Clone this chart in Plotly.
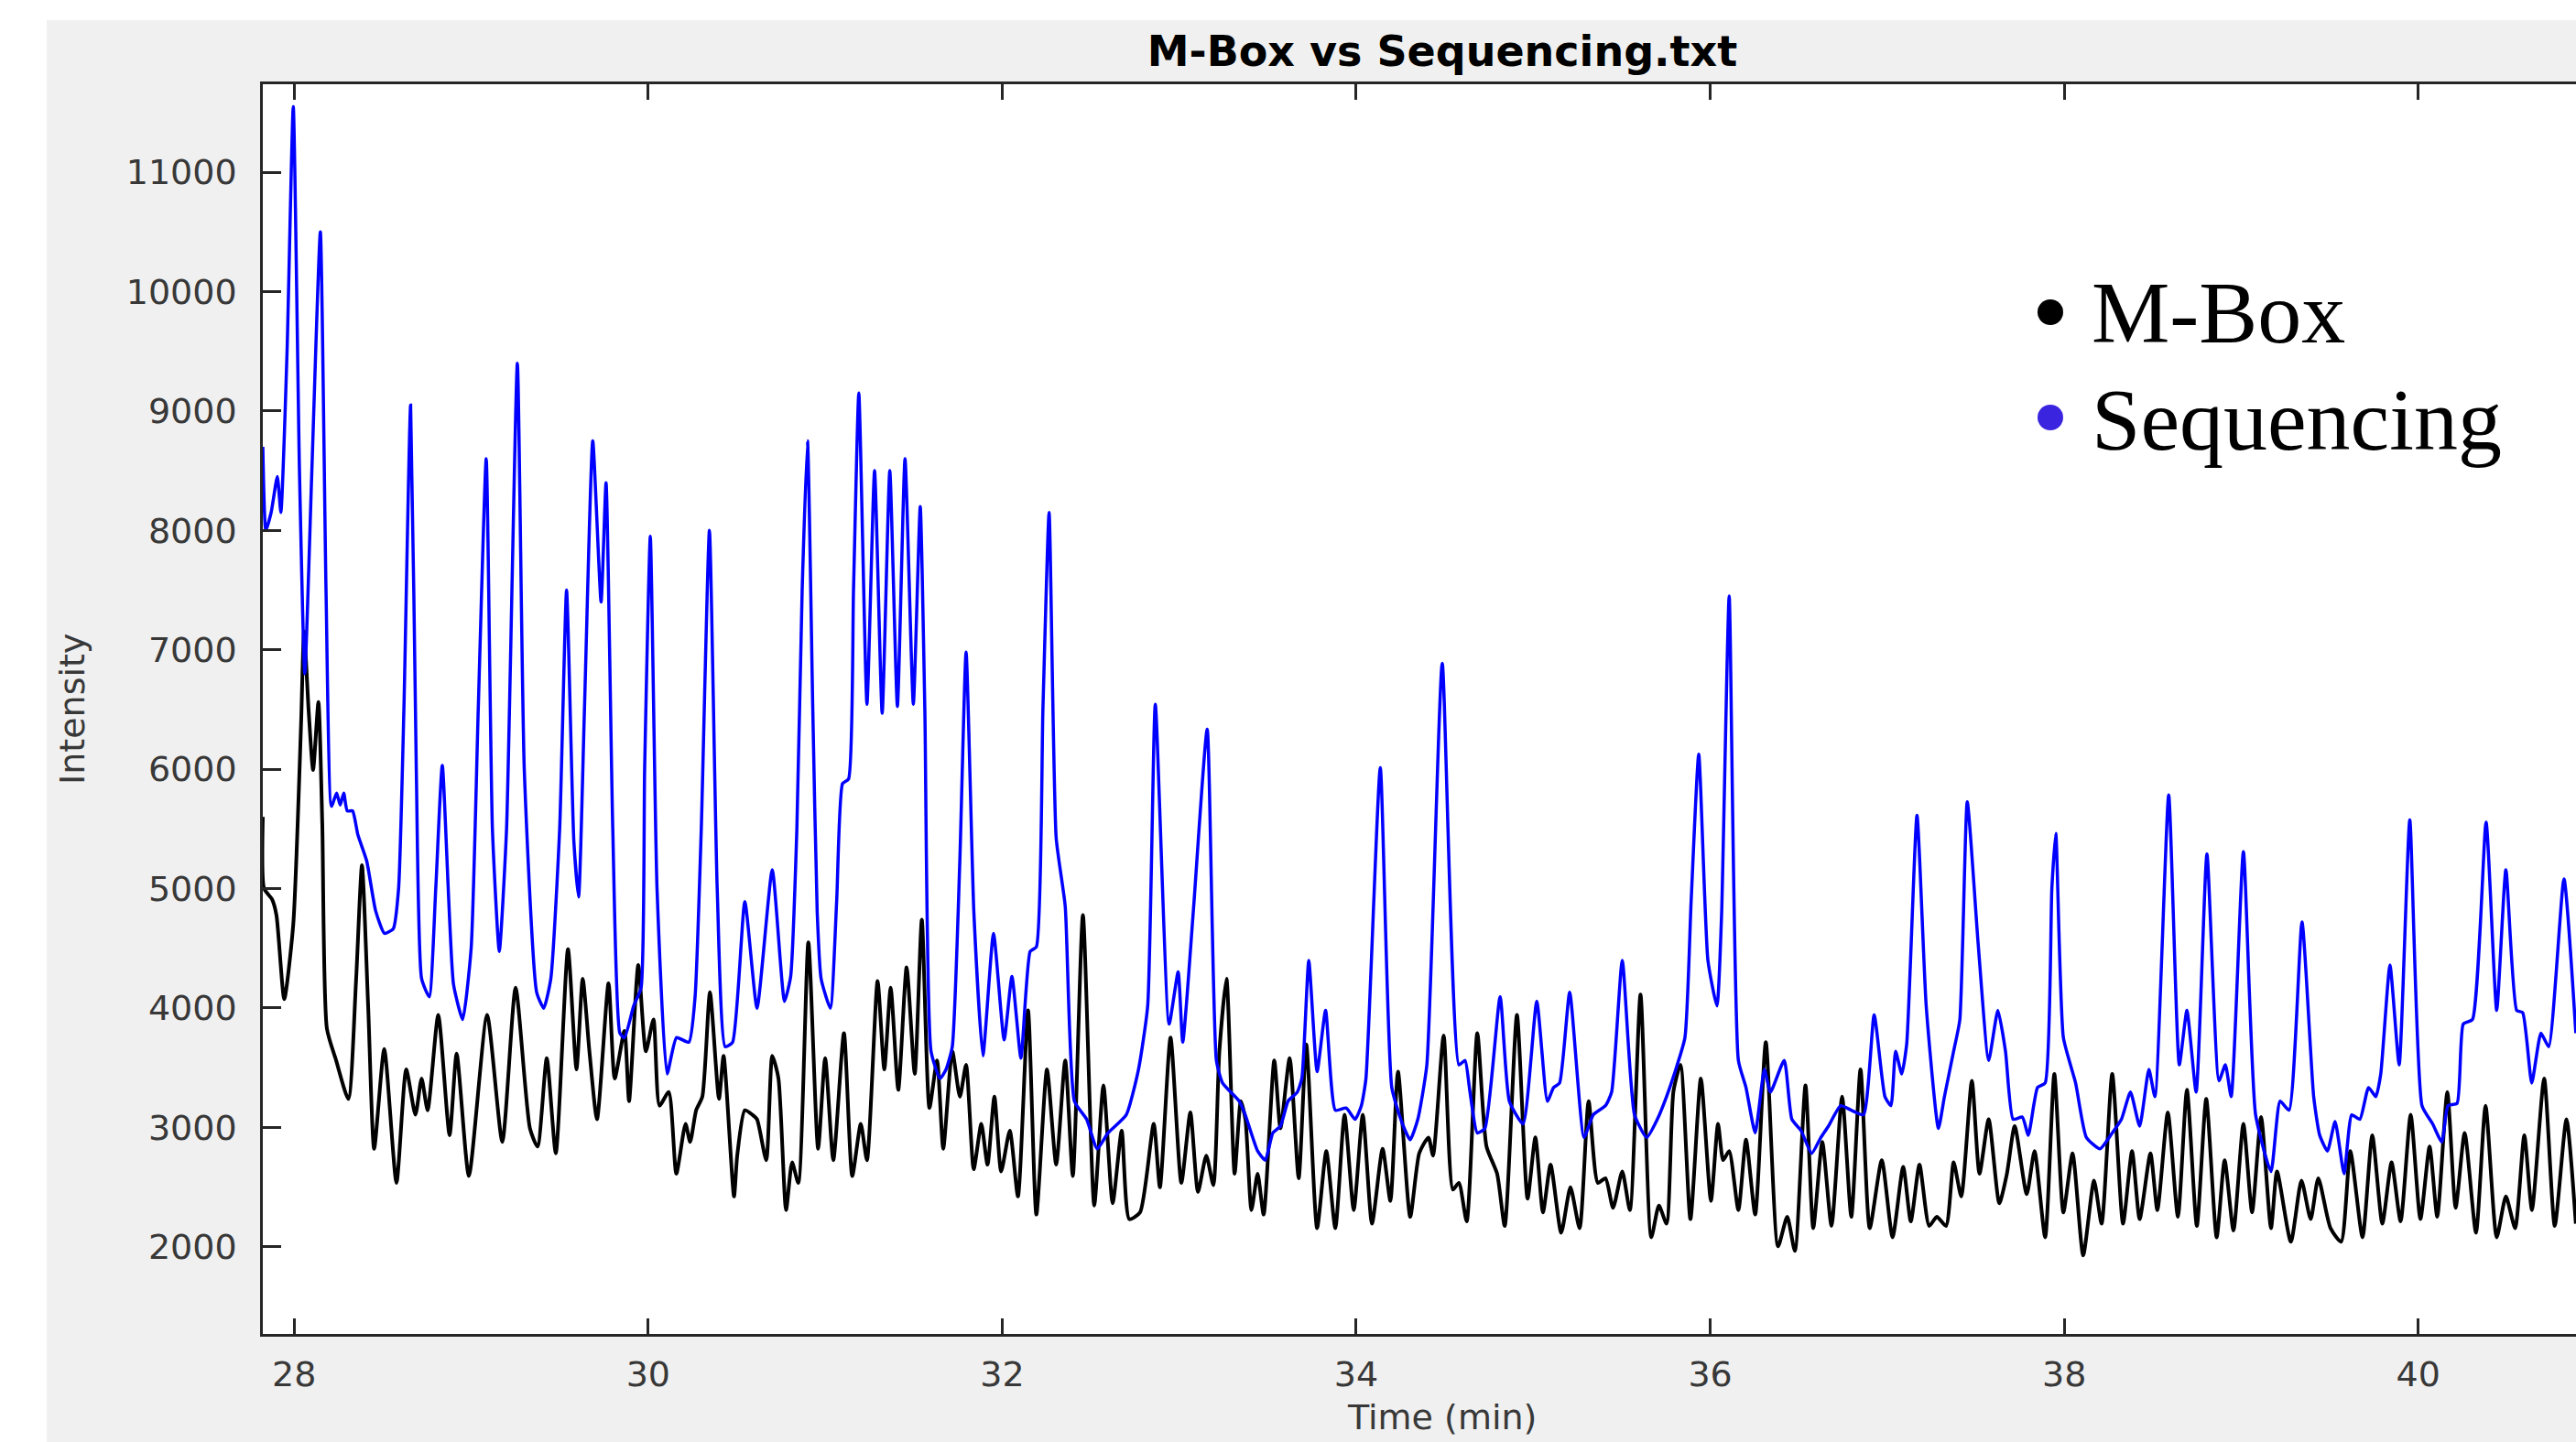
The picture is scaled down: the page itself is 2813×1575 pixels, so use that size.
import plotly.graph_objects as go

# ---------------- data ----------------
mbox_time = [
    27.823, 27.83, 27.875, 27.9, 27.944, 27.995, 28.039, 28.056, 28.082, 28.107,
    28.137, 28.159, 28.185, 28.237, 28.306, 28.349, 28.383, 28.418, 28.452, 28.509,
    28.578, 28.633, 28.685, 28.72, 28.754, 28.814, 28.878, 28.918, 28.987, 29.09,
    29.176, 29.251, 29.332, 29.375, 29.427, 29.478, 29.547, 29.595, 29.63, 29.668,
    29.711, 29.776, 29.811, 29.866, 29.892, 29.944, 29.987, 30.03, 30.064, 30.116,
    30.159, 30.211, 30.237, 30.271, 30.306, 30.349, 30.4, 30.426, 30.485, 30.503,
    30.546, 30.589, 30.615, 30.667, 30.701, 30.736, 30.779, 30.813, 30.848, 30.905,
    30.96, 31.0, 31.046, 31.106, 31.153, 31.201, 31.236, 31.296, 31.334, 31.37,
    31.413, 31.46, 31.506, 31.546, 31.589, 31.632, 31.667, 31.718, 31.761, 31.796,
    31.839, 31.882, 31.917, 31.956, 31.994, 32.043, 32.089, 32.146, 32.193, 32.253,
    32.305, 32.356, 32.399, 32.456, 32.52, 32.572, 32.624, 32.675, 32.718, 32.779,
    32.856, 32.891, 32.951, 33.012, 33.063, 33.106, 33.153, 33.193, 33.227, 33.267,
    33.313, 33.348, 33.374, 33.408, 33.443, 33.477, 33.537, 33.572, 33.624, 33.675,
    33.718, 33.779, 33.831, 33.882, 33.934, 33.986, 34.037, 34.089, 34.149, 34.193,
    34.236, 34.305, 34.356, 34.408, 34.434, 34.494, 34.546, 34.58, 34.624, 34.684,
    34.736, 34.796, 34.839, 34.908, 34.968, 35.012, 35.055, 35.098, 35.158, 35.21,
    35.262, 35.313, 35.365, 35.408, 35.451, 35.503, 35.546, 35.606, 35.667, 35.71,
    35.753, 35.792, 35.832, 35.888, 35.947, 36.004, 36.044, 36.073, 36.107, 36.159,
    36.202, 36.254, 36.314, 36.383, 36.435, 36.478, 36.538, 36.582, 36.633, 36.685,
    36.745, 36.797, 36.849, 36.901, 36.969, 37.03, 37.09, 37.133, 37.182, 37.237,
    37.28, 37.332, 37.375, 37.418, 37.478, 37.521, 37.573, 37.633, 37.676, 37.72,
    37.788, 37.832, 37.892, 37.944, 37.995, 38.047, 38.107, 38.168, 38.211, 38.271,
    38.332, 38.383, 38.426, 38.487, 38.526, 38.585, 38.642, 38.693, 38.749, 38.802,
    38.861, 38.906, 38.956, 39.012, 39.061, 39.112, 39.168, 39.202, 39.28, 39.34,
    39.392, 39.435, 39.504, 39.564, 39.616, 39.685, 39.74, 39.797, 39.849, 39.9,
    39.957, 40.012, 40.064, 40.107, 40.164, 40.211, 40.262, 40.326, 40.38, 40.443,
    40.495, 40.547, 40.599, 40.642, 40.711, 40.771, 40.837, 40.89,
]
mbox_intensity = [
    5600, 5000, 4910, 4777, 4074, 4701, 6373, 7152, 6487, 5993,
    6563, 5537, 3827, 3561, 3238, 4207, 5195, 4017, 2820, 3656,
    2535, 3485, 3105, 3409, 3143, 3941, 2934, 3618, 2592, 3941,
    2877, 4169, 2991, 2839, 3580, 2782, 4492, 3485, 4245, 3637,
    3067, 4207, 3409, 3808, 3219, 4359, 3637, 3903, 3181, 3295,
    2611, 3029, 2877, 3143, 3257, 4131, 3238, 3599, 2421, 2763,
    3143, 3105, 3067, 2725, 3599, 3409, 2307, 2706, 2535, 4549,
    2820, 3580, 2725, 3789, 2592, 3029, 2725, 4226, 3485, 4169,
    3314, 4340, 3447, 4739, 3162, 3561, 2820, 3637, 3257, 3523,
    2649, 3029, 2687, 3257, 2630, 2972, 2421, 3979, 2269, 3485,
    2687, 3561, 2592, 4777, 2345, 3352, 2364, 2972, 2231, 2288,
    3029, 2497, 3751, 2535, 3124, 2459, 2763, 2516, 3637, 4245,
    2611, 3219, 3067, 2307, 2611, 2269, 3561, 2991, 3580, 2573,
    3694, 2155, 2801, 2155, 3105, 2307, 3105, 2193, 2820, 2383,
    3466, 2250, 2782, 2915, 2763, 3770, 2478, 2535, 2212, 3789,
    2839, 2611, 2174, 3941, 2402, 2915, 2288, 2687, 2117, 2497,
    2155, 3219, 2535, 2573, 2326, 2630, 2307, 4112, 2079, 2345,
    2193, 3300, 3523, 2231, 3409, 2383, 3029, 2725, 2801, 2307,
    2896, 2269, 3713, 2003, 2250, 1965, 3352, 2155, 2877, 2174,
    3257, 2250, 3485, 2155, 2725, 2079, 2668, 2212, 2687, 2174,
    2250, 2174, 2706, 2421, 3390, 2611, 3067, 2364, 2611, 3010,
    2440, 2801, 2079, 3447, 2288, 2782, 1927, 2554, 2193, 3447,
    2193, 2801, 2231, 2782, 2307, 3124, 2250, 3314, 2174, 3238,
    2079, 2725, 2136, 3029, 2288, 3086, 2155, 2630, 2041, 2554,
    2231, 2573, 2155, 2041, 2801, 2079, 2934, 2193, 2706, 2212,
    3105, 2231, 2839, 2250, 3295, 2326, 2953, 2117, 3181, 2079,
    2421, 2155, 2934, 2307, 3409, 2174, 3067, 2193,
]

seq_time = [
    27.823, 27.84, 27.87, 27.905, 27.925, 27.96, 27.995, 28.03, 28.06, 28.1,
    28.148, 28.18, 28.211, 28.24, 28.26, 28.28, 28.3, 28.33, 28.36, 28.41,
    28.46, 28.51, 28.56, 28.59, 28.62, 28.658, 28.69, 28.72, 28.763, 28.8,
    28.837, 28.9, 28.952, 29.0, 29.04, 29.085, 29.12, 29.159, 29.2, 29.261,
    29.3, 29.37, 29.41, 29.45, 29.5, 29.539, 29.58, 29.607, 29.64, 29.687,
    29.734, 29.762, 29.8, 29.84, 29.866, 29.918, 29.96, 29.98, 30.012, 30.05,
    30.107, 30.16, 30.23, 30.265, 30.3, 30.346, 30.39, 30.435, 30.477, 30.546,
    30.615, 30.701, 30.77, 30.805, 30.84, 30.87, 30.9, 30.93, 30.955, 30.977,
    31.029, 31.065, 31.098, 31.132, 31.16, 31.19, 31.236, 31.279, 31.322, 31.365,
    31.408, 31.451, 31.498, 31.537, 31.563, 31.598, 31.649, 31.683, 31.718, 31.76,
    31.796, 31.84, 31.891, 31.951, 32.011, 32.055, 32.106, 32.158, 32.193, 32.23,
    32.265, 32.305, 32.356, 32.408, 32.477, 32.537, 32.598, 32.701, 32.77, 32.822,
    32.865, 32.943, 32.994, 33.02, 33.08, 33.158, 33.21, 33.245, 33.339, 33.373,
    33.443, 33.486, 33.529, 33.572, 33.615, 33.667, 33.693, 33.732, 33.779, 33.827,
    33.882, 33.943, 33.994, 34.029, 34.055, 34.136, 34.201, 34.261, 34.305, 34.348,
    34.399, 34.486, 34.58, 34.615, 34.641, 34.684, 34.727, 34.813, 34.865, 34.943,
    35.02, 35.08, 35.115, 35.149, 35.206, 35.287, 35.339, 35.408, 35.443, 35.503,
    35.572, 35.641, 35.701, 35.753, 35.797, 35.857, 35.892, 35.935, 35.987, 36.038,
    36.064, 36.107, 36.159, 36.202, 36.254, 36.306, 36.34, 36.418, 36.461, 36.513,
    36.573, 36.625, 36.668, 36.737, 36.797, 36.866, 36.926, 36.987, 37.021, 37.047,
    37.082, 37.11, 37.168, 37.22, 37.289, 37.323, 37.375, 37.41, 37.452, 37.513,
    37.573, 37.625, 37.668, 37.711, 37.763, 37.797, 37.849, 37.892, 37.93, 37.952,
    37.995, 38.064, 38.125, 38.202, 38.271, 38.323, 38.374, 38.426, 38.478, 38.512,
    38.59, 38.65, 38.693, 38.745, 38.806, 38.874, 38.91, 38.943, 39.012, 39.081,
    39.168, 39.219, 39.27, 39.343, 39.409, 39.443, 39.487, 39.53, 39.581, 39.624,
    39.67, 39.719, 39.76, 39.788, 39.84, 39.892, 39.952, 40.021, 40.081, 40.133,
    40.168, 40.219, 40.254, 40.306, 40.383, 40.443, 40.495, 40.556, 40.59, 40.641,
    40.693, 40.737, 40.823, 40.89,
]
seq_intensity = [
    8700, 8000, 8150, 8450, 8150, 9500, 11550, 8500, 6800, 8500,
    10500, 7500, 5689, 5800, 5700, 5800, 5650, 5650, 5450, 5230,
    4815, 4625, 4663, 5000, 6500, 9050, 6000, 4245, 4093, 5000,
    6031, 4200, 3903, 4500, 6500, 8600, 5500, 4473, 5500, 9400,
    6000, 4131, 3998, 4245, 5500, 7500, 5400, 4929, 6500, 8750,
    7400, 8400, 5500, 3789, 3750, 4017, 4169, 6000, 7950, 5000,
    3447, 3751, 3713, 4093, 5500, 8000, 5000, 3675, 3713, 4891,
    3998, 5157, 4055, 4264, 5500, 7500, 8750, 6500, 4800, 4245,
    3998, 4900, 5879, 5917, 7500, 9150, 6544, 8500, 6468, 8500,
    6525, 8600, 6544, 8200, 6500, 3637, 3409, 3485, 3675, 5200,
    6981, 4800, 3599, 4625, 3732, 4264, 3580, 4473, 4511, 6500,
    8150, 5423, 4853, 3219, 3067, 2820, 2953, 3105, 3485, 4017,
    6544, 3865, 4302, 3713, 4815, 6335, 3561, 3371, 3219, 3105,
    2801, 2725, 2953, 3010, 3219, 3295, 3409, 4397, 3466, 3979,
    3143, 3162, 3067, 3181, 3409, 6012, 3333, 3029, 2896, 3067,
    3523, 6886, 3523, 3560, 3314, 2953, 2991, 4093, 3219, 3029,
    4055, 3219, 3333, 3371, 4131, 2915, 3105, 3181, 3295, 4397,
    3105, 2915, 3067, 3257, 3447, 3751, 4891, 6126, 4397, 4017,
    4777, 7450, 3561, 3333, 2953, 3485, 3295, 3561, 3067, 2972,
    2782, 2915, 3010, 3181, 3143, 3105, 3941, 3257, 3181, 3637,
    3447, 3700, 5613, 4017, 2991, 3257, 3637, 3900, 5727, 4549,
    3561, 3979, 3637, 3067, 3086, 2934, 3333, 3371, 5005, 5461,
    3751, 3371, 2915, 2820, 2953, 3067, 3295, 3010, 3485, 3257,
    5784, 3523, 3979, 3295, 5290, 3390, 3523, 3257, 5309, 3105,
    2630, 3219, 3143, 4720, 3257, 2934, 2801, 3048, 2611, 3105,
    3067, 3333, 3257, 3447, 4359, 3523, 5575, 3181, 3029, 2877,
    3181, 3200, 3865, 3903, 5556, 3979, 5157, 3979, 3960, 3371,
    3789, 3675, 5081, 3789,
]

x_ticks = [28, 30, 32, 34, 36, 38, 40]
x_tick_labels = ["28", "30", "32", "34", "36", "38", "40"]
y_ticks = [2000, 3000, 4000, 5000, 6000, 7000, 8000, 9000, 10000, 11000]
y_tick_labels = ["2000", "3000", "4000", "5000", "6000", "7000", "8000",
                 "9000", "10000", "11000"]
series_names = ["M-Box", "Sequencing"]
chart_title = "M-Box vs Sequencing.txt"
x_title = "Time (min)"
y_title = "Intensity"

# ---------------- layout geometry ----------------
W, H = 2813, 1575
L, T, B, R = 287, 92, 118, 0
PW = W - L - R
PH = H - T - B


def px_x(px):
    return (px - L) / PW


def px_y(py):
    return (H - B - py) / PH


AXIS_COLOR = "#262626"
TICK_FONT = dict(family="DejaVu Sans", size=38, color="#383838")

fig = go.Figure()
fig.add_trace(go.Scatter(
    x=mbox_time, y=mbox_intensity, mode="lines", name=series_names[0],
    line=dict(color="#000000", width=4, shape="spline", smoothing=0.6),
    showlegend=False,
))
fig.add_trace(go.Scatter(
    x=seq_time, y=seq_intensity, mode="lines", name=series_names[1],
    line=dict(color="#0000ff", width=3.5, shape="spline", smoothing=0.5),
    showlegend=False,
))

shapes = [
    # white strips around the grey figure background
    dict(type="rect", xref="paper", yref="paper", layer="below",
         x0=px_x(-10), x1=px_x(W + 10), y0=px_y(22), y1=px_y(-10),
         fillcolor="white", line=dict(width=0)),
    dict(type="rect", xref="paper", yref="paper", layer="below",
         x0=px_x(-10), x1=px_x(51), y0=px_y(H + 10), y1=px_y(-10),
         fillcolor="white", line=dict(width=0)),
    # legend bullets
    dict(type="circle", xref="paper", yref="paper",
         x0=px_x(2239 - 14), x1=px_x(2239 + 14), y0=px_y(341 + 14), y1=px_y(341 - 14),
         fillcolor="#000000", line=dict(width=0)),
    dict(type="circle", xref="paper", yref="paper",
         x0=px_x(2239 - 14), x1=px_x(2239 + 14), y0=px_y(456 + 14), y1=px_y(456 - 14),
         fillcolor="#3b24e0", line=dict(width=0)),
]

annotations = [
    dict(text=y_title, x=px_x(79), y=px_y(775), xref="paper", yref="paper",
         textangle=-90, showarrow=False, xanchor="center", yanchor="middle",
         font=dict(family="DejaVu Sans", size=38, color="#383838")),
    dict(text=x_title, x=px_x(1574), y=px_y(1524), xref="paper", yref="paper",
         showarrow=False, xanchor="center", yanchor="top",
         font=dict(family="DejaVu Sans", size=38, color="#383838")),
    dict(text=series_names[0], x=px_x(2282), y=px_y(341), xref="paper", yref="paper",
         showarrow=False, xanchor="left", yanchor="middle",
         font=dict(family="Liberation Serif", size=96, color="#000000")),
    dict(text=series_names[1], x=px_x(2282), y=px_y(458), xref="paper", yref="paper",
         showarrow=False, xanchor="left", yanchor="middle",
         font=dict(family="Liberation Serif", size=96, color="#000000")),
]

fig.update_layout(
    template="none",
    width=W, height=H,
    margin=dict(l=L, r=R, t=T, b=B, pad=0),
    paper_bgcolor="#f0f0f0",
    plot_bgcolor="#ffffff",
    showlegend=False,
    title=dict(text=chart_title, x=1575 / W, xanchor="center", xref="container",
               y=1 - 56 / H, yanchor="middle", yref="container",
               font=dict(family="DejaVu Sans", size=46, color="#000000", weight="bold")),
    xaxis=dict(range=[27.823, 40.891], tickvals=x_ticks, ticktext=x_tick_labels,
               ticks="inside", ticklen=17,
               tickwidth=2.5, tickcolor=AXIS_COLOR, showline=True, linecolor=AXIS_COLOR,
               linewidth=2.5, mirror="ticks", showgrid=False, zeroline=False,
               tickfont=TICK_FONT, ticklabelstandoff=9, automargin=False),
    yaxis=dict(range=[1269, 11737], tickvals=y_ticks, ticktext=y_tick_labels,
               ticks="inside", ticklen=20,
               tickwidth=2.5, tickcolor=AXIS_COLOR, showline=True, linecolor=AXIS_COLOR,
               linewidth=2.5, mirror=False, showgrid=False, zeroline=False,
               tickfont=TICK_FONT, ticklabelstandoff=18, automargin=False),
    shapes=shapes,
    annotations=annotations,
)

fig.write_html(
    "out.html",
    config={"displayModeBar": False},
    post_script="document.body.style.margin='0px';document.body.style.overflow='hidden';",
)
